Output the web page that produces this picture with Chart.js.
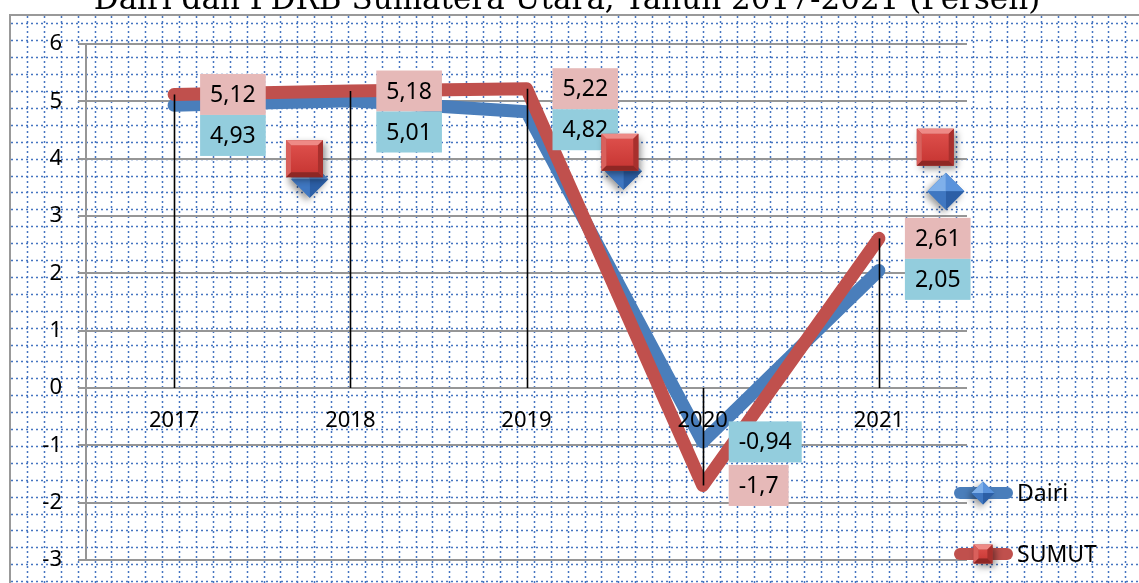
<!DOCTYPE html>
<html>
<head>
<meta charset="utf-8">
<script src="https://cdn.jsdelivr.net/npm/chart.js@4.4.1/dist/chart.umd.min.js"></script>
<style>
  html,body{margin:0;padding:0;background:#fff}
  canvas{display:block}
</style>
</head>
<body>
<canvas id="c" width="1139" height="583"></canvas>
<script>
// Laju pertumbuhan ekonomi Dairi vs PDRB Sumatera Utara 2017-2021 (persen)
const years = ['2017','2018','2019','2020','2021'];
const dairi = [4.93, 5.01, 4.82, -0.94, 2.05];
const sumut = [5.12, 5.18, 5.22, -1.7, 2.61];
const yMin = -3, yMax = 6;
const titleText = 'Dairi dan PDRB Sumatera Utara, Tahun 2017-2021 (Persen)';
// stray 3D markers that float in the source picture: [category index, value]
const strayDairi = [[0.77, 3.64], [2.55, 3.78], [4.38, 3.43]];
const straySumut = [[0.74, 4.0], [2.53, 4.11], [4.32, 4.2]];

const BLUE = '#4a7ebb', RED = '#c0504d';
const BLUE_LBL = '#93cddd', RED_LBL = '#e6b9b8';
const FONT = "'Noto Sans', 'Open Sans', sans-serif";
const fmt = v => String(v).replace('.', ',');

// ── shape helpers ──
function bevelSquare(ctx, cx, cy, s){
  const h = s/2, b = 5;
  ctx.save();
  ctx.shadowColor = 'rgba(0,0,0,.45)'; ctx.shadowBlur = 7; ctx.shadowOffsetX = 3; ctx.shadowOffsetY = 3;
  ctx.fillStyle = '#b93d3a';
  ctx.fillRect(cx-h, cy-h, s, s);
  ctx.restore();
  const g = ctx.createLinearGradient(0, cy-h, 0, cy+h);
  g.addColorStop(0, '#e0524e'); g.addColorStop(1, '#c53431');
  ctx.fillStyle = g;
  ctx.fillRect(cx-h+b, cy-h+b, s-2*b, s-2*b);
  const side = (pts, col) => {
    ctx.beginPath(); ctx.moveTo(pts[0][0], pts[0][1]);
    pts.slice(1).forEach(p => ctx.lineTo(p[0], p[1]));
    ctx.closePath(); ctx.fillStyle = col; ctx.fill();
  };
  side([[cx-h,cy-h],[cx+h,cy-h],[cx+h-b,cy-h+b],[cx-h+b,cy-h+b]], '#ee8a86');
  side([[cx-h,cy-h],[cx-h+b,cy-h+b],[cx-h+b,cy+h-b],[cx-h,cy+h]], '#d9605c');
  side([[cx+h,cy-h],[cx+h,cy+h],[cx+h-b,cy+h-b],[cx+h-b,cy-h+b]], '#a8302d');
  side([[cx-h,cy+h],[cx+h,cy+h],[cx+h-b,cy+h-b],[cx-h+b,cy+h-b]], '#8e2724');
}

function bevelDiamond(ctx, cx, cy, h){
  ctx.save();
  ctx.shadowColor = 'rgba(0,0,0,.4)'; ctx.shadowBlur = 7; ctx.shadowOffsetX = -3; ctx.shadowOffsetY = 3;
  ctx.beginPath();
  ctx.moveTo(cx, cy-h); ctx.lineTo(cx+h, cy); ctx.lineTo(cx, cy+h); ctx.lineTo(cx-h, cy); ctx.closePath();
  ctx.fillStyle = '#3f78c0'; ctx.fill();
  ctx.restore();
  const tri = (a, b, col) => {
    ctx.beginPath(); ctx.moveTo(cx, cy); ctx.lineTo(a[0], a[1]); ctx.lineTo(b[0], b[1]); ctx.closePath();
    ctx.fillStyle = col; ctx.fill();
  };
  tri([cx-h,cy], [cx,cy-h], '#7fb0ea');
  tri([cx,cy-h], [cx+h,cy], '#5a93dc');
  tri([cx+h,cy], [cx,cy+h], '#2c5fa6');
  tri([cx,cy+h], [cx-h,cy], '#3f77c1');
}

// ── plugins ──
const paperPlugin = {
  id: 'paper',
  beforeDraw(chart){
    const ctx = chart.ctx, W = chart.width, H = chart.height;
    ctx.save();
    ctx.fillStyle = '#fff';
    ctx.fillRect(0, 0, W, H);
    // dotted graph-paper grid
    ctx.strokeStyle = 'rgba(60,110,190,.95)';
    ctx.lineWidth = 1.5;
    ctx.setLineDash([2, 3]);
    const step = 16.9;
    ctx.beginPath();
    for(let x = 10 + step; x < W; x += step){ ctx.moveTo(Math.round(x)+.5, 16); ctx.lineTo(Math.round(x)+.5, H); }
    for(let y = 15 + step*0.5; y < H; y += step){ ctx.moveTo(11, Math.round(y)+.5); ctx.lineTo(W, Math.round(y)+.5); }
    ctx.stroke();
    ctx.setLineDash([]);
    // outer chart border
    ctx.strokeStyle = '#999';
    ctx.lineWidth = 2;
    ctx.beginPath();
    ctx.moveTo(10, H); ctx.lineTo(10, 15); ctx.lineTo(W, 15);
    ctx.stroke();
    // title (top of it cut off by the page)
    let fs = 30;
    ctx.font = fs + "px 'DejaVu Serif', 'Liberation Serif', serif";
    fs = fs * 945 / ctx.measureText(titleText).width;
    ctx.font = fs.toFixed(1) + "px 'DejaVu Serif', 'Liberation Serif', serif";
    ctx.fillStyle = '#000';
    ctx.textAlign = 'center';
    ctx.textBaseline = 'alphabetic';
    ctx.fillText(titleText, 567, 9);
    ctx.restore();
  }
};

const dropLinePlugin = {
  id: 'dropLines',
  afterDatasetsDraw(chart){
    const ctx = chart.ctx, xs = chart.scales.x, ys = chart.scales.y;
    ctx.save();
    ctx.strokeStyle = '#000';
    ctx.lineWidth = 1.6;
    years.forEach((yr, i) => {
      const a = dairi[i], b = sumut[i];
      const v = Math.abs(a) > Math.abs(b) ? a : b;
      const x = Math.round(xs.getPixelForValue(i)) + .5;
      ctx.beginPath();
      ctx.moveTo(x, ys.getPixelForValue(0));
      ctx.lineTo(x, ys.getPixelForValue(v));
      ctx.stroke();
    });
    ctx.restore();
  }
};

const labelPlugin = {
  id: 'boxLabels',
  afterDatasetsDraw(chart){
    const ctx = chart.ctx, xs = chart.scales.x, ys = chart.scales.y;
    const bh = 41, padX = 10, dx = 26;
    ctx.save();
    ctx.font = '23px ' + FONT;
    ctx.textAlign = 'center';
    ctx.textBaseline = 'middle';
    const box = (x, top, txt, col) => {
      const w = ctx.measureText(txt).width + 2*padX;
      ctx.fillStyle = col;
      ctx.fillRect(x, top, w, bh);
      ctx.fillStyle = '#000';
      ctx.fillText(txt, x + w/2, top + bh/2 + 1);
    };
    years.forEach((yr, i) => {
      const x = xs.getPixelForValue(i) + dx;
      const sTop = ys.getPixelForValue(sumut[i]) - bh/2;
      let dTop = ys.getPixelForValue(dairi[i]) - bh/2;
      if(dTop < sTop + bh && dTop + bh > sTop) dTop = sTop + bh;
      box(x, sTop, fmt(sumut[i]), RED_LBL);
      box(x, dTop, fmt(dairi[i]), BLUE_LBL);
    });
    ctx.restore();
  }
};

const strayPlugin = {
  id: 'strayMarkers',
  afterDatasetsDraw(chart){
    const ctx = chart.ctx, xs = chart.scales.x, ys = chart.scales.y;
    const px = p => [xs.getPixelForValue(0) + p[0]*(xs.getPixelForValue(1)-xs.getPixelForValue(0)), ys.getPixelForValue(p[1])];
    strayDairi.forEach(p => { const [x, y] = px(p); bevelDiamond(ctx, x, y, 18.5); });
    straySumut.forEach(p => { const [x, y] = px(p); bevelSquare(ctx, x, y, 37); });
  }
};

const legendPlugin = {
  id: 'sideLegend',
  afterDraw(chart){
    const ctx = chart.ctx;
    const items = [
      {label: chart.data.datasets[0].label, color: BLUE, y: 493, mark: 'diamond'},
      {label: chart.data.datasets[1].label, color: RED, y: 554, mark: 'square'}
    ];
    ctx.save();
    items.forEach(it => {
      ctx.strokeStyle = it.color;
      ctx.lineWidth = 12;
      ctx.lineCap = 'round';
      ctx.beginPath(); ctx.moveTo(960, it.y); ctx.lineTo(1007, it.y); ctx.stroke();
      if(it.mark === 'diamond') bevelDiamond(ctx, 983, it.y, 11.5);
      else bevelSquare(ctx, 983, it.y, 19);
      ctx.fillStyle = '#000';
      ctx.font = '23px ' + FONT;
      ctx.textAlign = 'left';
      ctx.textBaseline = 'middle';
      ctx.fillText(it.label, 1017, it.y + 1);
    });
    ctx.restore();
  }
};

new Chart(document.getElementById('c'), {
  type: 'line',
  data: {
    labels: years,
    datasets: [
      { label: 'Dairi', data: dairi, borderColor: BLUE, backgroundColor: BLUE, order: 2,
        borderWidth: 13, borderCapStyle: 'round', borderJoinStyle: 'round', pointRadius: 0, tension: 0 },
      { label: 'SUMUT', data: sumut, borderColor: RED, backgroundColor: RED, order: 1,
        borderWidth: 13, borderCapStyle: 'round', borderJoinStyle: 'round', pointRadius: 0, tension: 0 }
    ]
  },
  options: {
    responsive: false,
    animation: false,
    layout: { padding: { left: 0, right: 172, top: 44, bottom: 23 } },
    plugins: { legend: { display: false }, tooltip: { enabled: false }, title: { display: false } },
    scales: {
      x: {
        type: 'category', position: { y: 0 }, offset: true,
        afterFit(s){ s.height = 0; s.paddingLeft = 0; s.paddingRight = 0; },
        grid: { display: false, drawTicks: false }, border: { display: false },
        ticks: { z: 1, color: '#000', font: { family: FONT, size: 22 }, padding: 20, maxRotation: 0, autoSkip: false }
      },
      y: {
        min: yMin, max: yMax,
        afterFit(s){ s.width = 86; s.paddingTop = 0; s.paddingBottom = 0; },
        grid: { color: '#969696', lineWidth: 2, tickLength: 8 },
        border: { display: true, color: '#969696', width: 2 },
        ticks: { stepSize: 1, color: '#000', padding: 16, font: { family: FONT, size: 22 }, callback: v => String(v) }
      }
    }
  },
  plugins: [paperPlugin, dropLinePlugin, labelPlugin, strayPlugin, legendPlugin]
});
</script>
</body>
</html>
